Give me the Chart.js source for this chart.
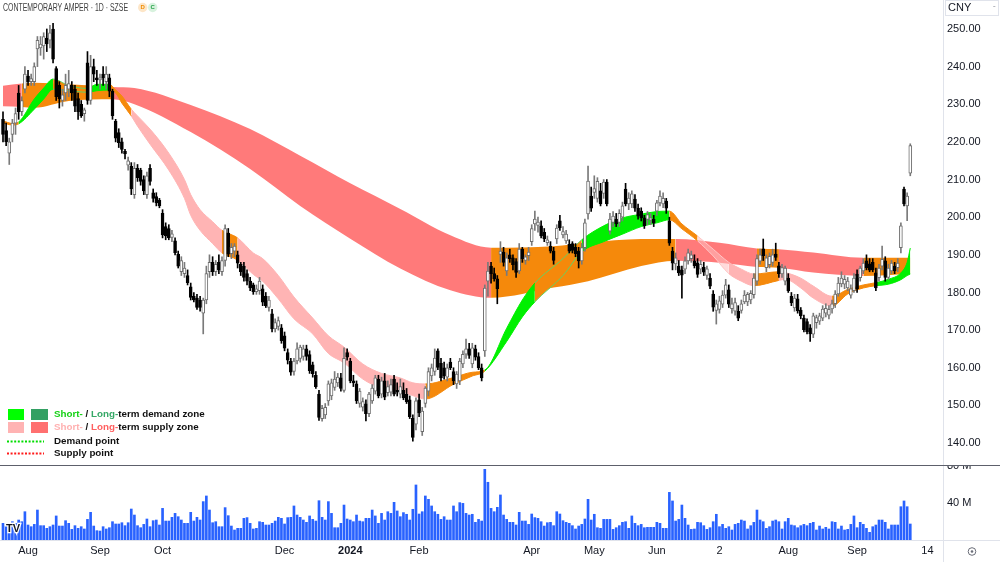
<!DOCTYPE html>
<html><head><meta charset="utf-8">
<script src="https://cdn.jsdelivr.net/npm/chart.js@4.4.1/dist/chart.umd.min.js"></script>
<style>html,body{margin:0;padding:0;background:#fff;overflow:hidden}#wrap{width:1000px;height:562px;position:relative}canvas{display:block}</style>
</head><body><div id="wrap"><canvas id="c" width="1000" height="562"></canvas></div>
<script>
// ---------- DATA ----------
const opens = [
226,223,217,222,225,233,228,234,237.5,236,
236,244.7,245,245.5,247.5,247,250,239.5,235,231,
233,234,235,234,231.5,230,227.5,241,231,240,
237,236.5,238,236,237,233.5,225.5,222.5,220,217.5,
213.8,213.5,206,213,212.5,210,206,213,206.5,205.5,
204.5,201,197.5,197,194.6,193.7,190.2,185.5,185,184.5,
181.5,179,178.5,178,174.5,178,185.5,188,185.5,188,
185.5,188.5,195.8,190.3,191,190,187.5,187,185,183,
182,180.2,180.5,181,179,176,174.3,170.3,171,170.6,
168.5,164,161.8,159,161.8,162.5,163,165,163.5,160.8,
158,153,146.5,147.5,151.2,152.5,154.8,156,157.3,154,
164,161.8,156.5,155.7,150.5,149.5,150.4,147.8,151.2,153.8,
157,153,156.5,153.4,153.5,157,154,153,154,153,
151.5,146.6,145,151.5,143,150.5,153.8,157.8,159,164.5,
161.2,160,157.5,161.5,159,155.7,156.5,161,163.6,165,
161,165,163,160,164.5,183,187,185,183.6,190.1,
190.7,185.7,190,189.2,188.2,185.7,191.5,188.5,189.8,193.5,
198.2,197.8,197.7,196,193.2,192.3,191,194.2,199,195.3,
193.7,192.8,193,192,191,188.4,191.9,200.9,205.6,206.6,
205,207,206.3,209.3,196.3,198.6,199.5,198.6,200,207.5,
203.5,203.5,204.8,202.4,201.6,199.8,199.4,199.2,199.4,201.6,
203.8,203.5,204.3,199,191,187.6,187,186,186.2,188.4,
189,188.4,187.9,186.2,186.7,184.5,183.8,179.6,175.2,175.5,
176.9,179.3,180.7,175.7,175,175,175.2,177.5,177.5,178,
179.4,183,188.3,191.6,186.6,187.4,188,190.2,187.1,184.9,
183,183.8,179,175.9,178.3,175.3,173.2,172.3,170.6,168.9,
172,172.4,173.2,174.5,174,175.6,177,179.6,182.3,182.2,
181.2,179.3,180.5,184.9,183.9,185.7,188.4,187.6,188,185.2,
183.9,187,188.4,184,185.7,187,186.6,191.9,207.5,203,
211.7];
const highs = [
228,225,221,226,229,235,232,240,239,238,
241,248,248,249,250,251,251.5,240,236,234,
238,239,236,235,233,231,229,244,243,242,
239,238,240,240,238,234,226,223.5,221,218,
216,214.5,214.5,214,213,211,212,214,207.5,206.5,
205,202,198.5,198,196.5,194.5,191,189.5,188,186,
182.5,180,179.5,179,178.5,187,190,189.5,188.5,190,
189.5,198,197,193,193,191,188,188,186,184,
182.5,182,184,182,180,179,175.5,173,173.5,171.5,
169.5,165,162.5,162.5,166.6,166,166,166,164.5,161.5,
159,154,150,150.5,156.5,157,159,158.5,158.5,165.3,
165,162.5,158,156.5,154.5,152,151.5,153.5,155.5,158,
158,157.5,158.5,156.5,157,158,156,157,156,154.5,
152.5,147.5,152,153,149.5,155,160,161,165,165,
162.5,161.5,161,162.5,160,159,162.5,164.5,167.6,166.5,
166.5,166,164,161,182,188,188,186.5,184.5,193.5,
192,190.5,191.5,190,189,193,192,190,192,198,
201.6,200,199,197,195,193.5,192,198,200.5,197.5,
196.5,194,193.5,193,192,193,199.5,213.6,208,211,
210.5,209,210,210,201,201.5,201,202,204,209,
206.5,207,206,203.5,202.5,200.5,201.5,201,200.5,204.5,
207,206.5,205,200,192,190.5,188.5,187,189.5,191.5,
191,190,189,188.5,188,187,185,180.5,178,179,
180.5,183.5,182,178.5,178.5,176.5,178,180.5,180,180.5,
185,190,191.5,194.2,190,190.5,191.5,193.1,188,187.5,
187,185,180,179.5,179.5,176,174,173,171.5,174.5,
174,174.5,176.5,177,176.5,178,180.5,184,185.5,184.5,
184,182,185,186,187,189,190,189,189,186.5,
187.5,192.3,189.5,187.5,188.5,188,189,198.5,208,206.5,
219.5];
const lows = [
220,219,214,220,222,226,227,233,235,235,
235,240,243,242,244,245,241,231,229,229.5,
231,232,231,228,226,226.5,225.5,230,230,236,
235,234,235,234,232,226,220,218.5,217,215.5,
212.5,206,205,209.5,208.5,206,205,208.5,204,203,
202.5,194.5,194,194,193.5,190,186.5,184.5,184,182,
178,177.5,175.5,175,169,177,184,184.5,184.5,185,
184.5,187,189.5,189,189.5,186.5,184.5,183,182,180.5,
179.5,179.5,179.5,176.5,176,175,169.5,169.5,170,166.5,
164.5,161,158,158,161,161.5,162,162,158.5,157.5,
154.5,146,145.8,146.5,150,151.5,154,155,153.8,153.5,
162,156,155,150.5,149.5,148.5,145.9,147,150.5,153,
152,152,151.5,152.5,152.5,152.5,152.5,152,151.5,150.5,
146.5,140.5,143.5,147,142,149.5,152.5,156.5,158,159.5,
156.5,157,156.5,159.5,155.5,154.5,155.5,160,162.5,162.5,
160,162,159.5,156.5,163,179,182.5,183,177,188,
187,184.5,188,186,184,185,188,187.5,188.5,192.5,
196.5,196,194.5,193.5,192.5,190.5,187.5,193,196.5,194.5,
193,190.5,190.5,189.5,186.5,187.5,191,199.5,201.5,205,
204,203,205,203,195.5,197.5,197.5,197.5,199,203,
202,202.5,201.5,199.5,199,197,198,198,197.5,200.5,
203,202.5,201,192.5,186,186,184.5,178.5,185,187.5,
188,186.5,184,185,184.5,183.5,181,175,171.6,174.5,
176,178.5,176,174.5,174,172.5,174.5,177,176.5,177,
178.5,182,187.5,188.5,185.5,186.5,187,188.5,184,184,
182,180,176.5,175,174.5,173,169.5,169,167,168,
170.5,171.5,172.5,173.5,173,174.5,176,179,181.5,181,
180.5,178.5,180,180,183,185,186,185.5,185.5,180.5,
183,186,183,183.5,185,185,185.5,190.5,203,199.1,
211];
const closes = [
222,220,220,225,227.5,228,231,238,236,236.8,
240,247,246,248,246,249,242,232,231.5,232.5,
235,235.5,233,229.5,228,227,228.5,231,240,238,
236.5,237,237,238,233.5,227,221,219.8,218,216.8,
215,207.5,213,210.5,209.5,207,211,209.5,205,203.8,
203,195.3,195,194.5,195.6,190.6,187,188.5,186.5,182.6,
178.7,178,176,176,178,185,188,185.5,187.5,186,
188.5,197,190.2,192,192.3,187.8,185.5,184,183,181.2,
180.2,181,183,177.4,176.5,178,170.3,172,172.5,167.2,
165.2,162,158.8,161.8,165,165.5,165,163,159.2,158.4,
155,146.8,149.2,149.5,155.7,156,157,157.5,154.5,162.5,
162.8,156.5,156,151.2,153.8,151,147.8,153,154.6,157.3,
152.5,156.5,152.2,155,155.5,153,153.5,155,152,151,
147,141.5,151.2,148,148.5,154.6,159,160,162.6,160.1,
157.3,157.8,160,160,156.5,158.3,161.8,163.6,165,163.3,
165.3,162.8,160,157.3,181.2,185.7,185,183.6,181,191,
188,189.2,189,187.4,185.3,191.5,189,189.5,190.7,197,
199.5,198.7,195,194.2,194,191,188.5,197.1,197.2,196.2,
195.5,191,191.2,190.3,188.4,191.9,198.5,209.6,202.4,207.6,
209.5,203.5,209.3,203.5,199.5,200.3,198.2,201,203,203.5,
205.1,206.2,202.4,200.3,199.8,197.7,200.7,199.8,198.5,203.8,
205.6,205,202.4,193.1,187.8,189.2,185.2,184.6,188.4,190.5,
190,187.1,184.8,187.5,185.4,186.3,181.7,176.1,177,177.8,
179.3,182,176.9,177,177.3,173.2,177,179.3,179.5,179.8,
183.8,189,190,189.8,189.2,189.6,190,189.3,185,186.6,
186.5,180.5,177.2,178.5,175.1,173.8,170.1,169.6,169,173.8,
173.3,173.8,175.6,175.8,175.5,177,179.6,182.5,183.8,183.5,
183,181,183.8,181,186.5,187.8,186.6,185.9,186,181.2,
186.5,188.8,184,186.5,187.8,185.7,187.8,197.7,203.5,205.6,
219];
// volume in millions
const volumes = [
18.0,15.1,16.2,19.8,18.0,21.6,19.8,30.6,16.2,14.4,
16.9,32.4,15.5,15.5,12.6,14.4,16.2,26.0,15.1,15.1,
20.9,18.0,11.5,15.5,12.6,14.4,11.9,22.3,29.9,15.1,
10.1,9.7,14.4,11.9,13.3,19.8,17.3,17.3,18.7,15.5,
18.7,33.5,27.0,15.5,13.3,16.9,22.7,14.4,20.9,21.6,
16.2,34.2,20.5,20.5,24.5,28.8,25.2,21.6,18.0,18.0,
29.9,20.5,24.5,21.6,41.5,47.6,32.4,18.7,19.8,14.4,
14.4,35.0,26.3,15.1,10.8,12.6,12.6,23.4,24.2,18.0,
11.9,12.6,19.8,19.1,16.2,16.2,18.0,20.5,24.5,23.4,
17.3,24.2,24.5,36.8,27.0,24.5,21.6,19.1,26.0,22.3,
20.5,42.5,24.5,21.6,41.5,28.8,13.3,13.3,18.0,37.8,
22.7,21.6,19.8,27.0,20.5,19.8,23.4,23.4,32.4,26.0,
18.0,28.8,21.6,30.6,28.8,40.7,31.4,25.2,29.6,27.8,
21.6,33.2,59.5,28.1,30.6,47.6,44.0,36.8,30.6,27.8,
22.3,25.2,21.6,21.6,36.8,30.6,40.4,39.6,28.8,27.0,
27.8,19.1,22.3,20.5,76.4,62.4,34.2,30.6,35.3,48.7,
27.0,22.3,19.1,19.1,16.2,29.9,20.5,20.5,16.9,28.1,
24.2,23.4,19.8,15.1,18.7,19.1,15.5,30.6,28.1,20.9,
19.1,18.0,15.5,11.9,15.1,16.9,22.7,44.0,21.6,27.8,
13.3,12.6,22.3,22.3,22.3,11.5,13.3,15.5,19.1,19.8,
12.6,26.0,18.0,15.5,16.9,13.3,13.7,13.7,13.7,19.1,
18.0,12.6,12.6,51.5,42.2,20.5,22.3,37.8,23.4,16.2,
11.5,11.9,19.1,18.7,15.5,11.5,13.3,19.8,27.8,14.4,
16.9,12.6,14.4,10.8,16.9,18.0,21.6,20.5,11.9,15.5,
19.1,32.4,21.6,19.8,12.6,14.4,20.5,21.6,19.8,11.9,
19.8,23.4,16.2,15.5,13.3,15.5,16.9,15.5,18.0,19.1,
10.8,15.1,11.9,13.7,11.9,19.8,19.1,11.9,15.1,10.8,
11.5,16.9,26.0,13.3,19.1,16.9,12.6,8.3,14.4,16.2,
21.6,21.6,19.1,11.9,16.2,16.2,16.2,36.0,42.2,36.0,
17.3];

// short-term zone (two averages) sampled at bar indices
const shortIdx = [0,3,5,10,13,16,21,27,30,34,36,38,41,43,47,53,58,60,63,67,70,75,80,83,88,93,99,104,109,115,121,127,131,135,144,150,154,161,166,170,179,185,192,198,204,209,213,217,222,227,232,236,240,248,250,255,259,265,270,275,279,283,287,289,290];
const shortA = [225.6,224.9,225.3,231.4,234.3,236.7,235.0,234.2,235.3,235.3,233.8,232.2,228.7,226.9,223.4,217.0,210.0,206.0,202.0,198.8,196.5,194.5,190.5,189.0,184.5,178.8,173.2,168.5,165.5,161.0,158.5,157.3,156.0,155.7,157.4,158.8,159.4,170.5,178.0,182.5,189.0,194.0,197.7,199.8,200.8,201.5,201.6,198.2,195.0,191.5,188.0,186.2,184.9,185.5,185.3,183.8,181.7,179.0,180.8,182.0,182.6,183.5,185.2,188.0,191.8];
const shortB = [225.0,224.5,224.8,228.7,231.4,234.0,233.6,233.2,233.6,233.8,233.0,230.3,226.9,224.2,219.4,212.5,205.0,200.5,196.5,193.0,190.5,188.6,184.8,183.0,178.3,173.0,169.0,163.8,161.3,157.0,154.6,153.8,152.6,151.7,155.6,157.8,159.1,167.0,173.5,177.5,184.5,190.8,193.5,195.5,197.5,198.5,199.3,196.9,193.7,189.7,185.0,183.0,181.8,183.2,183.5,181.2,178.5,176.4,179.6,181.2,181.8,182.2,183.4,184.5,184.9];
const shortZone = ['O','O','G','G','G','Q','Q','G','G','O','O','O','P','P','P','P','P','P','P','P','O','P','P','P','P','P','P','P','P','P','P','P','P','O','O','O','G','G','G','Q','Q','G','G','G','G','G','O','O','T','T','P','P','O','P','P','P','P','O','O','O','G','G','G','G','G'];

// long-term zone
const longIdx = [0,6,10,21,35,42,60,79,95,111,127,143,156,176,187,204,215,229,241,248,259,275,290];
const longA = [234.9,235.5,235.7,235.3,234.6,234.3,229.8,223.4,216.3,209.0,202.2,195.2,191.9,192.3,193.2,194.2,194.2,193.2,191.7,191.5,190.6,189.2,189.2];
const longB = [229.5,229.3,229.1,230.9,231.3,230.0,222.6,212.8,203.0,194.3,186.4,180.6,178.6,181.3,183.0,187.0,188.4,187.9,186.8,186.6,185.3,184.4,185.0];
const longZone = ['R','O','O','O','R','R','R','R','R','R','R','R','O','O','O','O','R','R','O','R','R','O','O'];

// axis ticks
const xTickPos = [8,31,51,90,111,133,169,189,209,229,251,273,295.5];
const xTickLabels = ['Aug','Sep','Oct','Dec','2024','Feb','Apr','May','Jun','2','Aug','Sep','14'];
const priceTicks = [140,150,160,170,180,190,200,210,220,230,240,250];
const volTicks = [40,80];

// ---------- STYLE ----------
const FONT = '"Liberation Sans", Arial, sans-serif';
const FILL = {G:'#00f000', P:'#ffb4b4', O:'#f5890b', Q:'#f5890b', T:'rgba(255,190,190,0.55)', R:'#ff7a7a'};
const LINE = {G:'#00f000', P:'#ffb4b4', O:'#f5890b', Q:'#63d463', T:'#ffc6c6', R:'rgba(0,0,0,0)'};
const idx = opens.map((_, i) => i);
const isUp = i => closes[i] >= opens[i];
const pts = (ix, vals) => ix.map((x, k) => ({x, y: vals[k]}));

const datasets = [
  {type:'line', data: pts(longIdx, longA), yAxisID:'y', borderColor:'rgba(0,0,0,0)', borderWidth:0, pointRadius:0, fill:false, cubicInterpolationMode:'monotone', order:40},
  {type:'line', data: pts(longIdx, longB), yAxisID:'y', borderColor:'rgba(0,0,0,0)', borderWidth:0, pointRadius:0, fill:{target:0}, cubicInterpolationMode:'monotone', order:39,
    segment:{backgroundColor: c => FILL[longZone[c.p0DataIndex]]}},
  {type:'line', data: pts(shortIdx, shortA), yAxisID:'y', borderWidth:1, pointRadius:0, fill:false, cubicInterpolationMode:'monotone', order:30,
    segment:{borderColor: c => LINE[shortZone[c.p0DataIndex]]}},
  {type:'line', data: pts(shortIdx, shortB), yAxisID:'y', borderWidth:1, pointRadius:0, fill:{target:2}, cubicInterpolationMode:'monotone', order:29,
    segment:{borderColor: c => LINE[shortZone[c.p0DataIndex]], backgroundColor: c => FILL[shortZone[c.p0DataIndex]]}},
  {type:'bar', data: idx.map(i => ({x:i, y:[lows[i], highs[i]]})), yAxisID:'y', grouped:false, barThickness:1, borderWidth:0,
    backgroundColor: idx.map(i => isUp(i) ? '#7a7a7a' : '#000000'), order:5},
  {type:'bar', data: idx.map(i => ({x:i, y:[opens[i], closes[i]]})), yAxisID:'y', grouped:false, barThickness:3, borderWidth:1, borderSkipped:false, minBarLength:1,
    backgroundColor: idx.map(i => isUp(i) ? '#ffffff' : '#000000'), borderColor: idx.map(i => isUp(i) ? '#6e6e6e' : '#000000'), order:4},
  {type:'bar', data: idx.map(i => ({x:i, y:volumes[i]})), yAxisID:'yv', grouped:false, barThickness:2, borderWidth:0, backgroundColor:'#2962ff', order:6}
];

function drawLegend(ctx) {
  ctx.font = 'bold 9.8px ' + FONT;
  ctx.textBaseline = 'middle';
  ctx.textAlign = 'left';
  const rows = [
    {y:414, sq:['#00ff00','#33a063'], parts:[['Short-','#16d116'],[' / ','#111'],['Long-','#35a866'],['term demand zone','#111']]},
    {y:427, sq:['#ffb3b3','#ff7070'], parts:[['Short-','#ffb0b0'],[' / ','#111'],['Long-','#ff5f5f'],['term supply zone','#111']]}
  ];
  rows.forEach(r => {
    ctx.fillStyle = r.sq[0]; ctx.fillRect(8, r.y - 5, 16, 11);
    ctx.fillStyle = r.sq[1]; ctx.fillRect(31, r.y - 5, 17, 11);
    let x = 54;
    r.parts.forEach(([t, c]) => { ctx.fillStyle = c; ctx.fillText(t, x, r.y); x += ctx.measureText(t).width; });
  });
  const dots = [[441.5,'#00dd00','Demand point'],[453.5,'#ff1a1a','Supply point']];
  dots.forEach(([y, c, t]) => {
    ctx.save(); ctx.strokeStyle = c; ctx.lineWidth = 2; ctx.setLineDash([2,1.6]);
    ctx.beginPath(); ctx.moveTo(7, y); ctx.lineTo(44, y); ctx.stroke(); ctx.restore();
    ctx.fillStyle = '#111'; ctx.fillText(t, 54, y);
  });
}

const overlay = {
  id:'overlay',
  afterDraw(chart) {
    const ctx = chart.ctx;
    ctx.save();
    ctx.fillStyle = '#fff'; ctx.fillRect(944, 452, 56, 13);
    ctx.fillStyle = '#5d606b'; ctx.fillRect(0, 465, 1000, 1);
    ctx.fillStyle = '#e0e3eb'; ctx.fillRect(943, 0, 1, 465); ctx.fillRect(943, 466, 1, 96);
    ctx.fillRect(0, 540, 1000, 1);
    // title
    ctx.fillStyle = '#3f3f3f'; ctx.textBaseline = 'middle'; ctx.textAlign = 'left';
    ctx.font = '10px ' + FONT;
    const title = 'CONTEMPORARY AMPER · 1D · SZSE';
    const w = ctx.measureText(title).width;
    ctx.save(); ctx.translate(3, 8); ctx.scale(125 / w, 1); ctx.fillText(title, 0, 0); ctx.restore();
    // badges
    ctx.fillStyle = '#fde6c8'; ctx.beginPath(); ctx.arc(142.7, 7.5, 4.7, 0, Math.PI*2); ctx.fill();
    ctx.fillStyle = '#f08c00'; ctx.font = 'bold 6px ' + FONT; ctx.textAlign = 'center'; ctx.fillText('D', 142.7, 7.8);
    ctx.fillStyle = '#d8f2de'; ctx.beginPath(); ctx.arc(152.7, 7.5, 4.7, 0, Math.PI*2); ctx.fill();
    ctx.fillStyle = '#22a045'; ctx.fillText('C', 152.7, 7.8);
    // currency box
    ctx.strokeStyle = '#e0e3eb'; ctx.lineWidth = 1; ctx.strokeRect(945.5, 0.5, 53, 15);
    ctx.fillStyle = '#131722'; ctx.font = '11px ' + FONT; ctx.textAlign = 'left'; ctx.fillText('CNY', 948, 8);
    ctx.fillStyle = '#8a8d99'; ctx.font = '8px ' + FONT; ctx.fillText('ˇ', 993, 9);
    // gear icon
    ctx.strokeStyle = '#6a6d78'; ctx.lineWidth = 1; ctx.beginPath(); ctx.arc(972, 551.5, 3.8, 0, Math.PI*2); ctx.stroke();
    ctx.fillStyle = '#6a6d78'; ctx.beginPath(); ctx.arc(972, 551.5, 1.3, 0, Math.PI*2); ctx.fill();
    // logo
    ctx.font = 'bold 11px ' + FONT; ctx.textAlign = 'left'; ctx.lineWidth = 2.5; ctx.strokeStyle = '#fff';
    ctx.strokeText('TV', 6, 529); ctx.fillStyle = '#131722'; ctx.fillText('TV', 6, 529);
    drawLegend(ctx);
    ctx.restore();
  }
};

const noPad = s => { s.paddingTop = 0; s.paddingBottom = 0; s.paddingLeft = 0; s.paddingRight = 0; };

new Chart(document.getElementById('c'), {
  type:'line',
  data:{datasets},
  options:{
    responsive:false, devicePixelRatio:1, animation:false, events:[],
    layout:{padding:0},
    plugins:{legend:{display:false}, tooltip:{enabled:false}, filler:{drawTime:'beforeDatasetsDraw', propagate:false}},
    scales:{
      x:{type:'linear', min:-0.96, max:300.46, offset:false, bounds:'data', position:'bottom',
        grid:{display:false, drawTicks:false}, border:{display:false},
        afterBuildTicks: s => { s.ticks = xTickPos.map(v => ({value:v})); },
        afterFit: s => { s.height = 22; noPad(s); },
        ticks:{autoSkip:false, maxRotation:0, minRotation:0, padding:4, color:'#131722',
          font: c => ({family:FONT, size:11, weight: (xTickLabels[c.index] === '2024') ? 'bold' : 'normal'}),
          callback: (v, i) => xTickLabels[i]}},
      y:{type:'linear', position:'right', stack:'pane', stackWeight:466, min:133.9, max:257.7, bounds:'data',
        grid:{display:false, drawTicks:false}, border:{display:false},
        afterBuildTicks: s => { s.ticks = priceTicks.map(v => ({value:v})); },
        afterFit: s => { s.width = 57; noPad(s); },
        ticks:{padding:4, color:'#131722', font:{family:FONT, size:11}, callback: v => Number(v).toFixed(2)}},
      yv:{type:'linear', position:'right', stack:'pane', stackWeight:74, min:0, max:80, bounds:'data',
        grid:{display:false, drawTicks:false}, border:{display:false},
        afterBuildTicks: s => { s.ticks = volTicks.map(v => ({value:v})); },
        afterFit: s => { s.width = 57; noPad(s); },
        ticks:{padding:4, color:'#131722', font:{family:FONT, size:11}, callback: v => v + ' M'}}
    }
  },
  plugins:[overlay]
});
</script>
</body></html>
